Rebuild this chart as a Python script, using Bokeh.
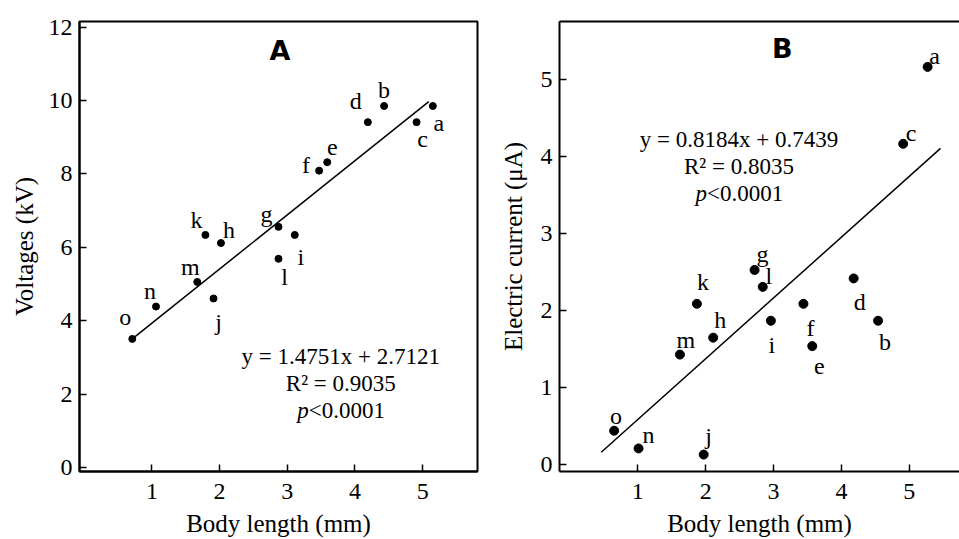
from bokeh.plotting import figure
from bokeh.layouts import row
from bokeh.models import ColumnDataSource, LinearAxis, FixedTicker, Range1d
from bokeh.embed import file_html
from bokeh.resources import INLINE
from bokeh.core.properties import value

# ---------------- data ----------------
labels = ["a", "b", "c", "d", "e", "f", "g", "h", "i", "j", "k", "l", "m", "n", "o"]

# Panel A: body length (mm) vs voltage (kV)
a_length = [5.15, 4.43, 4.91, 4.19, 3.59, 3.47, 2.87, 2.02, 3.11, 1.91, 1.79, 2.87, 1.67, 1.06, 0.71]
a_voltage = [9.85, 9.85, 9.41, 9.41, 8.32, 8.09, 6.56, 6.12, 6.34, 4.61, 6.34, 5.69, 5.06, 4.39, 3.51]
a_fit_x = [0.71, 5.09]
a_fit_y = [3.51, 9.97]

# Panel B: body length (mm) vs electric current (uA)
b_length = [5.27, 4.54, 4.91, 4.18, 3.57, 3.44, 2.72, 2.11, 2.96, 1.97, 1.87, 2.84, 1.62, 1.01, 0.65]
b_current = [5.17, 1.87, 4.17, 2.42, 1.54, 2.09, 2.53, 1.65, 1.87, 0.13, 2.09, 2.31, 1.43, 0.21, 0.44]
b_fit_x = [0.46, 5.46]
b_fit_y = [0.16, 4.11]

x_ticks = [1, 2, 3, 4, 5]
a_y_ticks = [0, 2, 4, 6, 8, 10, 12]
b_y_ticks = [0, 1, 2, 3, 4, 5]

a_eq = ["y = 1.4751x + 2.7121", "R\u00b2 = 0.9035"]
b_eq = ["y = 0.8184x + 0.7439", "R\u00b2 = 0.8035"]
p_sym = "p"
p_val = "<0.0001"

x_title = "Body length (mm)"
a_y_title = "Voltages (kV)"
b_y_title = "Electric current (\u03bcA)"

# ---------------- layout / style ----------------
SERIF = "Liberation Serif"
FS = "23px"
TICK_FS = "24px"
PT_FS = "24px"
TITLE_FS = "25px"

# label offsets in screen px (dx, dy; dy positive = down)
a_off = {"a": (6, 17), "b": (0, -16), "c": (6, 17), "d": (-12, -21), "e": (5, -15),
         "f": (-13, -6), "g": (-12, -13), "h": (8, -13), "i": (6, 22), "j": (5, 24),
         "k": (-9, -15), "l": (6, 18), "m": (-7, -15), "n": (-6, -16), "o": (-7, -22)}
b_off = {"a": (7, -11), "b": (7, 21), "c": (8, -11), "d": (6, 24), "e": (7, 20),
         "f": (7, 24), "g": (8, -16), "h": (7, -18), "i": (1, 24), "j": (5, -19),
         "k": (6, -22), "l": (6, -11), "m": (6, -15), "n": (10, -13), "o": (2, -15)}


def style_axes(p, yticks, ytitle, ystand):
    p.grid.visible = False
    p.xaxis.ticker = FixedTicker(ticks=x_ticks, minor_ticks=[])
    p.yaxis.ticker = FixedTicker(ticks=yticks, minor_ticks=[])
    for ax in (p.xaxis, p.yaxis):
        ax.major_tick_in = 7
        ax.major_tick_out = 0
        ax.minor_tick_in = 0
        ax.minor_tick_out = 0
        ax.major_tick_line_width = 1.5
        ax.major_tick_line_color = "black"
        ax.axis_line_width = 2
        ax.axis_line_color = "black"
        ax.major_label_text_font = SERIF
        ax.major_label_text_font_size = TICK_FS
        ax.major_label_text_color = "black"
        ax.axis_label_text_font = SERIF
        ax.axis_label_text_font_size = TITLE_FS
        ax.axis_label_text_font_style = "normal"
        ax.axis_label_text_color = "black"
    p.xaxis.axis_label = x_title
    p.yaxis.axis_label = ytitle
    p.xaxis.major_label_standoff = 12
    p.xaxis.axis_label_standoff = 8
    p.yaxis.major_label_standoff = 7
    p.yaxis.axis_label_standoff = ystand


def add_points(p, xs, ys, offs, size, fx, fy):
    src = ColumnDataSource(dict(x=xs, y=ys, t=labels,
                                dx=[offs[k][0] for k in labels],
                                dy=[offs[k][1] for k in labels]))
    p.line(fx, fy, line_width=1.5, color="black")
    p.scatter("x", "y", source=src, size=size, color="black")
    p.text("x", "y", text="t", source=src, x_offset="dx", y_offset="dy",
           text_font=value(SERIF), text_font_size=PT_FS, text_color="black",
           text_align="center", text_baseline="middle")


def add_equation(p, cx, ys, eq):
    for yy, t in zip(ys[:2], eq):
        p.text(x=[cx], y=[yy], text=[t], text_font=value(SERIF), text_font_size=FS,
               text_color="black", text_align="center", text_baseline="middle")
    p.text(x=[cx], y=[ys[2]], text=[p_sym], x_offset=-32, text_font=value(SERIF),
           text_font_size=FS, text_font_style="italic", text_color="black",
           text_align="right", text_baseline="middle")
    p.text(x=[cx], y=[ys[2]], text=[p_val], x_offset=-32, text_font=value(SERIF),
           text_font_size=FS, text_color="black", text_align="left", text_baseline="middle")


def add_letter(p, x, y, t):
    p.text(x=[x], y=[y], text=[t], text_font=value("DejaVu Sans"), text_font_size="27px",
           text_font_style="bold", text_color="black", text_align="center",
           text_baseline="middle")


# ---------------- panel A ----------------
pa = figure(width=490, height=539, x_range=Range1d(-0.07, 5.81), y_range=Range1d(-0.10, 12.15),
            output_backend="svg", toolbar_location=None,
            min_border_left=79, min_border_right=13, min_border_top=19, min_border_bottom=65)
pa.outline_line_color = "black"
pa.outline_line_width = 2
pa.outline_line_alpha = 1
pa.background_fill_color = "white"
pa.border_fill_color = "white"
style_axes(pa, a_y_ticks, a_y_title, 8)
add_points(pa, a_length, a_voltage, a_off, 7, a_fit_x, a_fit_y)
add_equation(pa, 3.79, [3.02, 2.30, 1.55], a_eq)
add_letter(pa, 2.89, 11.36, "A")

# ---------------- panel B ----------------
pb = figure(width=469, height=539, x_range=Range1d(-0.155, 5.74), y_range=Range1d(-0.09, 5.76),
            output_backend="svg", toolbar_location=None,
            min_border_left=69, min_border_right=0, min_border_top=21, min_border_bottom=63)
pb.outline_line_color = None
pb.background_fill_color = "white"
pb.border_fill_color = "white"
style_axes(pb, b_y_ticks, b_y_title, 11)
top = LinearAxis(ticker=FixedTicker(ticks=[], minor_ticks=[]), axis_line_width=2,
                 axis_line_color="black", major_tick_in=0, major_tick_out=0,
                 minor_tick_in=0, minor_tick_out=0, major_label_text_font_size="0px",
                 major_label_standoff=0)
pb.add_layout(top, "above")
add_points(pb, b_length, b_current, b_off, 9, b_fit_x, b_fit_y)
add_equation(pb, 2.49, [4.23, 3.87, 3.53], b_eq)
add_letter(pb, 3.13, 5.41, "B")

layout = row(pa, pb)
open("out.html", "w").write(file_html(layout, INLINE))
